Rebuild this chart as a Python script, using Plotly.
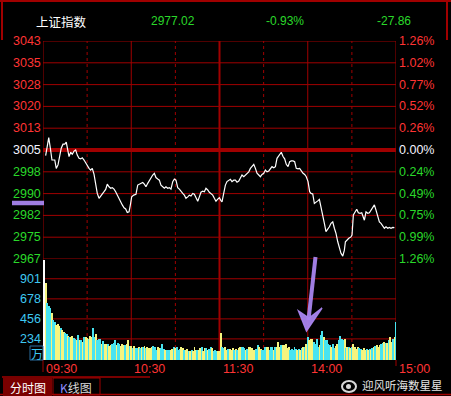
import plotly.graph_objects as go

# ---------------- data ----------------
prev_close = 3004.88
header_texts = ["上证指数", "2977.02", "-0.93%", "-27.86"]

price_minutes = [1.8, 3.9, 5.0, 6.1, 8.0, 9.0, 10.2, 12.4, 13.6, 14.8, 15.8, 17.0, 17.7, 18.8, 19.9,
                 21.1, 22.2, 23.3, 24.5, 25.6, 26.7, 27.9, 29.0, 30.1, 31.3, 32.4, 33.5, 34.7, 35.8,
                 36.9, 38.1, 39.2, 40.3, 41.5, 42.6, 43.7, 44.9, 46.0, 47.1, 48.3, 49.4, 50.5, 51.7,
                 52.8, 53.9, 55.1, 56.2, 57.3, 58.5, 59.4, 60.3, 61.7, 63.2, 64.4, 65.5, 66.6, 67.8,
                 68.9, 70.0, 71.2, 72.3, 73.4, 74.6, 75.7, 76.8, 78.0, 79.1, 80.2, 81.4, 82.5, 83.6,
                 84.8, 85.9, 87.0, 88.2, 89.3, 90.4, 91.6, 92.7, 93.8, 95.0, 96.1, 97.2, 98.4, 99.5,
                 100.6, 101.8, 102.9, 104.0, 105.2, 106.3, 107.4, 108.6, 109.7, 110.8, 111.5, 112.0,
                 113.1, 114.2, 115.4, 116.5, 117.6, 118.8, 119.9, 120.9, 121.7, 123.1, 124.0, 125.1,
                 126.3, 127.4, 128.5, 129.7, 130.8, 131.9, 133.1, 134.2, 135.3, 136.5, 137.6, 138.7,
                 139.9, 141.0, 142.1, 143.3, 144.4, 145.5, 146.7, 147.8, 148.9, 150.1, 151.2, 152.3,
                 153.5, 154.6, 155.7, 156.9, 158.0, 159.1, 160.3, 161.3, 162.0, 163.2, 164.3, 165.4,
                 166.6, 167.7, 168.8, 170.0, 171.1, 172.2, 173.4, 174.5, 175.6, 176.8, 177.9, 179.0,
                 180.2, 181.3, 182.2, 183.4, 184.5, 185.6, 186.8, 187.9, 189.0, 190.2, 191.3, 192.4,
                 193.6, 194.7, 195.8, 197.0, 198.1, 199.2, 200.4, 201.5, 202.6, 203.8, 204.9, 205.6,
                 206.5, 207.9, 209.4, 210.1, 211.0, 212.1, 213.3, 214.4, 215.6, 216.7, 217.8, 218.5,
                 219.6, 220.8, 221.9, 223.0, 224.2, 225.3, 226.4, 227.6, 228.7, 229.8, 231.0, 232.1,
                 233.2, 234.4, 235.5, 236.6, 237.8, 238.9]
price_values = [3002.9, 3009.2, 3005.5, 3001.4, 3001.4, 2998.5, 2999.7, 3005.5, 3006.9, 3006.9, 3007.6,
                3004.9, 3002.6, 3004.1, 3003.4, 3004.5, 3004.9, 3003.1, 3002.0, 3001.8, 3002.2, 3001.4,
                3000.3, 2999.7, 2998.5, 2997.9, 2998.5, 2996.4, 2992.7, 2989.8, 2988.1, 2989.0, 2989.5,
                2990.4, 2991.2, 2993.0, 2992.1, 2991.6, 2991.8, 2991.3, 2990.4, 2989.2, 2987.8, 2986.9,
                2985.8, 2984.8, 2984.4, 2983.2, 2983.4, 2985.8, 2988.6, 2989.2, 2989.5, 2992.7, 2993.0,
                2993.3, 2993.6, 2993.0, 2992.1, 2993.3, 2994.4, 2995.3, 2996.2, 2996.8, 2995.3, 2994.8,
                2994.4, 2992.7, 2992.1, 2991.6, 2992.1, 2991.6, 2991.8, 2991.3, 2993.9, 2994.8, 2994.4,
                2991.8, 2991.3, 2990.4, 2989.8, 2989.2, 2988.1, 2988.6, 2989.2, 2988.9, 2989.8, 2989.5,
                2988.3, 2987.1, 2988.6, 2990.2, 2990.6, 2990.4, 2991.6, 2991.3, 2991.0, 2990.2, 2989.8,
                2989.2, 2988.1, 2987.1, 2987.8, 2988.3, 2987.4, 2986.9, 2990.4, 2992.7, 2993.9, 2994.4,
                2994.7, 2993.9, 2994.4, 2994.4, 2993.7, 2994.1, 2995.3, 2996.2, 2995.6, 2996.2, 2996.8,
                2997.3, 2998.5, 2999.1, 2999.9, 2998.5, 2996.8, 2996.2, 2995.6, 2996.4, 2996.8, 2997.9,
                2997.3, 2997.6, 2998.5, 2999.1, 2998.7, 2999.1, 3002.0, 3002.9, 3003.4, 3004.1, 3002.6,
                3001.8, 2999.9, 2999.1, 3000.8, 3001.1, 3001.1, 3000.8, 2998.5, 2998.3, 2998.5, 2997.6,
                2996.8, 2996.4, 2995.6, 2993.9, 2990.4, 2989.8, 2989.6, 2986.3, 2986.9, 2987.2, 2987.7,
                2984.6, 2981.7, 2979.4, 2976.5, 2977.3, 2978.2, 2979.4, 2979.9, 2977.7, 2975.9, 2973.0,
                2970.7, 2969.0, 2968.0, 2970.1, 2973.0, 2973.6, 2974.2, 2974.7, 2975.3, 2982.3, 2983.4,
                2984.3, 2983.1, 2982.9, 2983.1, 2981.7, 2980.5, 2983.4, 2982.9, 2983.1, 2984.0, 2984.6,
                2985.8, 2984.0, 2981.7, 2979.9, 2979.4, 2978.5, 2977.7, 2978.2, 2977.7, 2978.0, 2977.7,
                2978.0, 2977.9]

# volume per minute (万), minute 0 .. 240
vol_values = [396, 1111, 850, 630, 600, 572, 517, 448, 421, 385, 396, 374, 360, 330, 311, 300, 293, 264,
              250, 250, 264, 245, 238, 220, 275, 227, 220, 201, 256, 250, 245, 238, 264, 250, 360, 250,
              293, 227, 230, 238, 176, 209, 176, 176, 176, 154, 165, 175, 190, 220, 165, 190, 176, 154,
              183, 170, 165, 183, 220, 153, 154, 128, 154, 128, 135, 140, 128, 147, 140, 154, 128, 140,
              130, 128, 147, 154, 139, 110, 147, 135, 128, 176, 117, 110, 110, 110, 110, 110, 120, 139,
              128, 147, 110, 117, 139, 128, 115, 110, 117, 103, 103, 110, 103, 147, 110, 110, 110, 128,
              139, 103, 128, 128, 110, 120, 139, 128, 103, 110, 103, 103, 103, 300, 147, 128, 139, 110,
              117, 120, 110, 128, 110, 121, 110, 128, 147, 140, 139, 128, 110, 125, 147, 139, 128, 110,
              115, 121, 165, 139, 121, 110, 110, 139, 140, 147, 110, 139, 147, 110, 139, 147, 198, 147,
              165, 165, 170, 176, 128, 139, 110, 125, 110, 139, 117, 110, 120, 110, 128, 147, 139, 183,
              257, 220, 230, 238, 202, 183, 238, 147, 165, 275, 319, 250, 227, 220, 183, 165, 147, 183,
              128, 160, 183, 220, 264, 238, 220, 238, 128, 140, 147, 128, 139, 183, 139, 117, 147, 128,
              120, 110, 128, 110, 125, 110, 117, 110, 130, 139, 154, 165, 147, 165, 176, 191, 202, 185,
              191, 220, 257, 200, 238, 250, 421]
vol_kinds = ("WWYCCCYCCYYYCYYCCYCYYCCYCYCYCYYCYYCCYCCCYCYYCYYCCCYCCYYYCYYCYCYCCYCYCYCY"
             "YYYCCCYYCCCYCCCYYCYCCCYYCYYCYCYYYCYYCYYCYCCYCCCYYYCCYYCYYYCYCYYCCCYCYYYYYCC"
             "YYCCCYYCCCYCYYYCYYYYYCCCCCYCYCYCYCYYYCCCCYCCYCCCCYCCYYCCCCYCYCYCYYYYCCYYYCYCYCY"
             "CYYYCCYCYCYYCYC")

left_labels = ["3043", "3035", "3028", "3020", "3013", "3005", "2998", "2990", "2982", "2975", "2967"]
right_labels = ["1.26%", "1.02%", "0.77%", "0.52%", "0.26%", "0.00%", "0.24%", "0.49%", "0.75%",
                "0.99%", "1.26%"]
pct_levels = [1.26, 1.008, 0.756, 0.504, 0.252, 0.0, -0.252, -0.504, -0.756, -1.008, -1.26]
vol_ticks = [901, 678, 456, 234]
vol_tick_labels = ["901", "678", "456", "234"]
time_ticks = [0, 60, 120, 180, 240]
time_labels = ["09:30", "10:30", "11:30", "14:00", "15:00"]
half_hours = [30, 90, 150, 210]
tab_labels = ["分时图", "K线图"]
watermark = "迎风听海数星星"

# ---------------- styling ----------------
W, H = 451, 396
RED = "#ff3434"
GREEN = "#2ad82a"
CYAN = "#3ec8f2"
GRID = "#a00000"
FONT = "Liberation Sans, Arial, sans-serif"
CJK = "Noto Sans CJK SC, sans-serif"
kind_color = {"W": "#ffffff", "Y": "#f4f47e", "C": "#48e4f0"}
VMAX = 1120


def px(x):
    return x / W


def py(y):
    return 1 - y / H


X0, X1 = px(43), px(396)
P_TOP, P_BOT = py(41), py(259)
V_TOP, V_BOT = py(259), py(360)

price_levels = [prev_close * (1 + p / 100) for p in pct_levels]
pmax, pmin = price_levels[0], price_levels[-1]

fig = go.Figure()
fig.add_trace(go.Scatter(x=price_minutes, y=price_values, mode="lines",
                         line=dict(color="#ffffff", width=1.2), xaxis="x", yaxis="y",
                         hoverinfo="skip"))
kinds = (vol_kinds + "C" * len(vol_values))[:len(vol_values)]
fig.add_trace(go.Bar(x=list(range(len(vol_values))), y=vol_values, width=0.66,
                     marker=dict(color=[kind_color[k] for k in kinds], line=dict(width=0)),
                     xaxis="x2", yaxis="y2", hoverinfo="skip"))

shapes = []


def line(x0, y0, x1, y1, color=GRID, width=1, dash="solid", xref="paper", yref="paper", layer="below"):
    shapes.append(dict(type="line", x0=x0, y0=y0, x1=x1, y1=y1, xref=xref, yref=yref,
                       line=dict(color=color, width=width, dash=dash), layer=layer))


# price horizontal grid
for lvl, p in zip(price_levels, pct_levels):
    line(0, lvl, 240, lvl, width=4 if p == 0 else 1, xref="x", yref="y")
# volume horizontal grid
for v in vol_ticks:
    line(0, v, 240, v, xref="x2", yref="y2")
line(0, 0, 240, 0, xref="x2", yref="y2", width=1.5)
# vertical lines, drawn in each panel
for t in time_ticks:
    w = 2 if t == 120 else 1
    line(t, pmin, t, pmax, width=w, xref="x", yref="y")
    line(t, 0, t, VMAX, width=w, xref="x2", yref="y2")
for t in half_hours:
    line(t, pmin, t, pmax, dash="dot", xref="x", yref="y")
    line(t, 0, t, VMAX, dash="dot", xref="x2", yref="y2")
line(X0, V_BOT, X0, py(372))
line(X1, V_BOT, X1, py(366))
# outer frame
line(0, py(1), 1, py(1), width=2)
line(px(2), py(0), px(2), py(40), width=2)
line(px(447), py(0), px(447), py(40), width=2)
line(px(2), py(377), px(150), py(377), width=1.5)
line(0, py(394.5), 1, py(394.5), width=1.5)
# tabs
shapes.append(dict(type="rect", xref="paper", yref="paper", x0=px(3), x1=px(52), y0=py(396), y1=py(378),
                   fillcolor="#7a0000", line=dict(width=0)))
shapes.append(dict(type="rect", xref="paper", yref="paper", x0=px(53), x1=px(100), y0=py(395), y1=py(378),
                   fillcolor="rgba(0,0,0,0)", line=dict(color="#a00000", width=1)))
# 万 box
shapes.append(dict(type="rect", xref="paper", yref="paper", x0=px(30), x1=px(43), y0=py(360), y1=py(346),
                   fillcolor="rgba(0,0,0,0)", line=dict(color="#2a6fa0", width=1)))
# weibo-like logo
shapes.append(dict(type="circle", xref="paper", yref="paper", x0=px(342), x1=px(356), y0=py(392), y1=py(381),
                   fillcolor="rgba(0,0,0,0)", line=dict(color="#d8d8d8", width=2)))
shapes.append(dict(type="circle", xref="paper", yref="paper", x0=px(346), x1=px(351), y0=py(389), y1=py(384),
                   fillcolor="#d8d8d8", line=dict(width=0)))
# purple hand-drawn marks
PURPLE = "rgba(168,132,238,0.95)"
line(px(12), py(203), px(44), py(203), color=PURPLE, width=4.5, layer="above")
shapes.append(dict(type="line", xref="paper", yref="paper", x0=px(315.5), y0=py(257), x1=px(308.5),
                   y1=py(320), line=dict(color=PURPLE, width=4)))
shapes.append(dict(type="path", xref="paper", yref="paper",
                   path=f"M {px(306.5)} {py(331)} L {px(298.5)} {py(311)} L {px(309)} {py(318)} "
                        f"L {px(322)} {py(308)} Z",
                   fillcolor=PURPLE, line=dict(color=PURPLE, width=1.5)))

ann = []


def text(x, y, s, color, size=12.5, xanchor="left", family=FONT, yref="paper"):
    ann.append(dict(x=x, y=y, xref="paper", yref=yref, text=s, showarrow=False, xanchor=xanchor,
                    yanchor="middle", font=dict(color=color, size=size, family=family)))


# header
text(px(34), py(21.5), header_texts[0], "#ffffff", size=12.5, family=CJK)
for s, x in zip(header_texts[1:], [149, 264, 375]):
    text(px(x), py(21.5), s, GREEN, size=12)

# price tick labels
for lvl, p, ll, rl in zip(price_levels, pct_levels, left_labels, right_labels):
    c = RED if p > 0 else ("#f4f4ff" if p == 0 else GREEN)
    text(px(43), lvl, ll, c, xanchor="right", yref="y")
    text(px(397), lvl, rl, c, xanchor="left", yref="y")
# volume tick labels
for v, s in zip(vol_ticks, vol_tick_labels):
    ann.append(dict(x=px(43), y=v, xref="paper", yref="y2", text=s, showarrow=False, xanchor="right",
                    yanchor="middle", font=dict(color=CYAN, size=12.5, family=FONT)))
text(px(36.5), py(353), "万", CYAN, size=12, xanchor="center", family=CJK)
# time labels
for t, s in zip(time_ticks, time_labels):
    ann.append(dict(x=t, y=py(368.5), xref="x", yref="paper", text=s, showarrow=False, xanchor="left",
                    xshift=1, yanchor="middle", font=dict(color=RED, size=12.5, family=FONT)))
# tabs
text(px(27.5), py(387), tab_labels[0], "#ffffff", size=12, xanchor="center", family=CJK)
text(px(76), py(387), "<span style='color:#8c8cff'>K</span>" + tab_labels[1][1:], "#d8d8d8", size=12,
     xanchor="center", family=CJK)
text(px(402.5), py(385), watermark, "#e4e4e4", size=11.5, xanchor="center", family=CJK)

axis_common = dict(showgrid=False, zeroline=False, showticklabels=False, showline=False, ticks="",
                   fixedrange=True)
fig.update_layout(
    width=W, height=H, margin=dict(l=0, r=0, t=0, b=0), autosize=False,
    paper_bgcolor="#000000", plot_bgcolor="rgba(0,0,0,0)", showlegend=False, bargap=0,
    xaxis=dict(domain=[X0, X1], range=[0, 240], anchor="y", **axis_common),
    yaxis=dict(domain=[P_BOT, P_TOP], range=[pmin, pmax], anchor="x", **axis_common),
    xaxis2=dict(domain=[X0, X1], range=[0, 240], anchor="y2", **axis_common),
    yaxis2=dict(domain=[V_BOT, V_TOP], range=[0, VMAX], anchor="x2", **axis_common),
    shapes=shapes, annotations=ann,
)
fig.write_html("out.html", config={"displayModeBar": False})
